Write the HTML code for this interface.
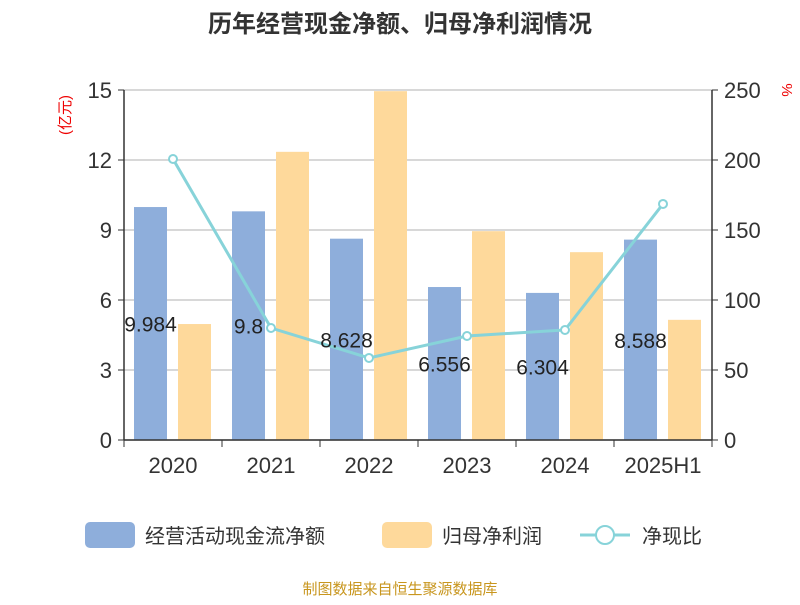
<!DOCTYPE html>
<html><head><meta charset="utf-8"><style>
body{margin:0;background:#fff;}
svg text{font-family:"Liberation Sans","Noto Sans CJK SC",sans-serif;}
</style></head><body>
<svg width="800" height="600" id="c" xmlns="http://www.w3.org/2000/svg">
<text x="400" y="32" text-anchor="middle" font-size="24" font-weight="bold" fill="#333">历年经营现金净额、归母净利润情况</text>
<text transform="translate(70,115) rotate(-90)" text-anchor="middle" font-size="15" fill="#e00">(亿元)</text>
<text transform="translate(782,90) rotate(90)" text-anchor="middle" font-size="15" fill="#e00">%</text>
<g id="plot"></g>
<g>
<rect x="85" y="522" width="50" height="26" rx="5" fill="#8eaedb"/>
<text x="145" y="543" font-size="20" fill="#333">经营活动现金流净额</text>
<rect x="382" y="522" width="50" height="26" rx="5" fill="#fed99b"/>
<text x="442" y="543" font-size="20" fill="#333">归母净利润</text>
<line x1="580" y1="535" x2="630" y2="535" stroke="#87d3d9" stroke-width="3"/>
<circle cx="605" cy="535" r="9" fill="#fff" stroke="#87d3d9" stroke-width="2"/>
<text x="642" y="543" font-size="20" fill="#333">净现比</text>
</g>
<text x="400" y="594" text-anchor="middle" font-size="15" fill="#c8961e">制图数据来自恒生聚源数据库</text>
</svg>
<script>
const categories=["2020","2021","2022","2023","2024","2025H1"];
const cashflow=[9.984,9.8,8.628,6.556,6.304,8.588];
const cashLabels=["9.984","9.8","8.628","6.556","6.304","8.588"];
const profit=[4.97,12.35,14.95,8.95,8.05,5.15];
const ratio=[200.7,80,58.6,74.3,78.6,168.6];
const leftTicks=[0,3,6,9,12,15];
const rightTicks=[0,50,100,150,200,250];
const NS="http://www.w3.org/2000/svg";
const g=document.getElementById('plot');
const X0=124,X1=712,Y0=440,Y1=90;
const yL=v=>Y0-(v/15)*(Y0-Y1);
const yR=v=>Y0-(v/250)*(Y0-Y1);
const bw=(X1-X0)/categories.length;
const xc=i=>X0+bw*(i+0.5);
function el(t,a){const e=document.createElementNS(NS,t);for(const k in a)e.setAttribute(k,a[k]);g.appendChild(e);return e;}
leftTicks.forEach((v,i)=>{
 const gl=el('line',{x1:X0,x2:X1,y1:yL(v),y2:yL(v),stroke:'#ccc','stroke-width':1.5});
 
 
 el('line',{x1:X0-6,x2:X0,y1:yL(v),y2:yL(v),stroke:'#333'});
 const t=el('text',{x:X0-12,y:yL(v)+8,'text-anchor':'end','font-size':22,fill:'#333'});t.textContent=v;
 
 
});
rightTicks.forEach(v=>{
 el('line',{x1:X1,x2:X1+6,y1:yR(v),y2:yR(v),stroke:'#333'});
 const t=el('text',{x:X1+12,y:yR(v)+8,'font-size':22,fill:'#333'});t.textContent=v;
 
 
});
categories.forEach((c,i)=>{
 const b=el('rect',{x:xc(i)-39,y:yL(cashflow[i]),width:33,height:Y0-yL(cashflow[i]),fill:'#8eaedb'});
 
 
 const p=el('rect',{x:xc(i)+5,y:yL(profit[i]),width:33,height:Y0-yL(profit[i]),fill:'#fed99b'});
 
 
 el('line',{x1:X0+bw*(i+1),x2:X0+bw*(i+1),y1:Y0,y2:Y0+7,stroke:'#333'});
 const t=el('text',{x:xc(i),y:Y0+33,'text-anchor':'middle','font-size':22,fill:'#333'});t.textContent=c;
 
 
});
el('line',{x1:X0,x2:X0,y1:Y1,y2:Y0,stroke:'#333','stroke-width':1.5});
el('line',{x1:X1,x2:X1,y1:Y1,y2:Y0,stroke:'#333','stroke-width':1.5});
el('line',{x1:X0,x2:X1,y1:Y0,y2:Y0,stroke:'#333','stroke-width':1.5});
el('line',{x1:X0,x2:X0,y1:Y0,y2:Y0+7,stroke:'#333'});
const line=el('polyline',{points:ratio.map((v,i)=>xc(i)+','+yR(v)).join(' '),fill:'none',stroke:'#87d3d9','stroke-width':3});


ratio.forEach((v,i)=>{
 const c=el('circle',{cx:xc(i),cy:yR(v),r:4,fill:'#fff',stroke:'#87d3d9','stroke-width':2});
 
 
});
cashflow.forEach((v,i)=>{
 const t=el('text',{x:xc(i)-22.5,y:(yL(v)+Y0)/2+8,'text-anchor':'middle','font-size':21,fill:'#222'});t.textContent=cashLabels[i];
 
 
});
</script>
</body></html>
